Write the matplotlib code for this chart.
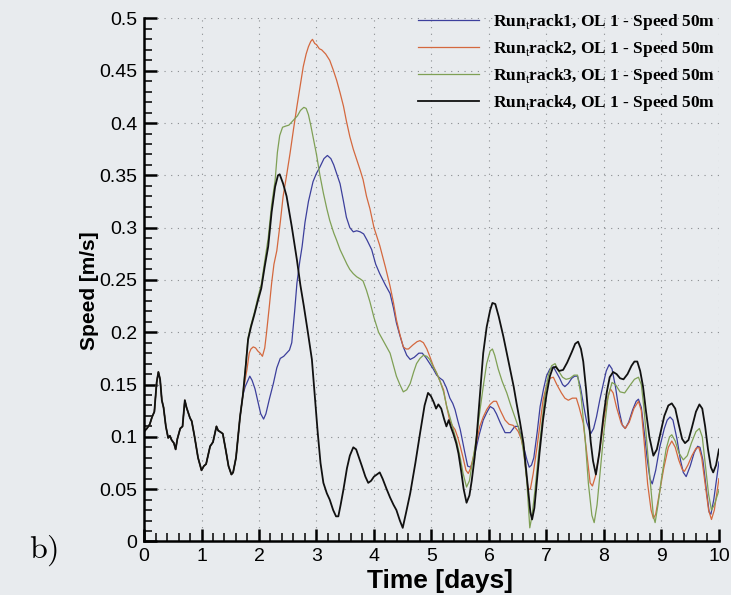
import matplotlib
matplotlib.use("Agg")
import matplotlib.pyplot as plt
from matplotlib.ticker import MultipleLocator
import numpy as np

# Shared part of the record (all four runs coincide until ~1.7 days)
t_common = [0.0, 0.05, 0.1, 0.14, 0.18, 0.22, 0.25, 0.28, 0.31, 0.34, 0.38, 0.42, 0.45, 0.48,
            0.52, 0.55, 0.58, 0.63, 0.67, 0.71, 0.74, 0.77, 0.8, 0.83, 0.88, 0.94, 1.0, 1.04,
            1.08, 1.15, 1.2, 1.26, 1.29, 1.32, 1.37, 1.42, 1.47, 1.52, 1.55, 1.6, 1.67, 1.72]
v_common = [0.105, 0.108, 0.112, 0.119, 0.124, 0.152, 0.162, 0.155, 0.135, 0.128, 0.110, 0.099,
            0.101, 0.097, 0.094, 0.088, 0.098, 0.108, 0.110, 0.135, 0.128, 0.123, 0.118, 0.115,
            0.100, 0.080, 0.068, 0.072, 0.074, 0.091, 0.095, 0.110, 0.106, 0.105, 0.103, 0.088,
            0.072, 0.064, 0.066, 0.080, 0.119, 0.140]

t_run1 = [1.76, 1.8, 1.84, 1.88, 1.93, 1.98, 2.03, 2.08, 2.12, 2.18, 2.25, 2.31, 2.37, 2.43, 2.48,
          2.53, 2.57, 2.62, 2.66, 2.71, 2.75, 2.8, 2.86, 2.94, 3.0, 3.06, 3.13, 3.19, 3.25, 3.3,
          3.36, 3.41, 3.47, 3.52, 3.58, 3.64, 3.7, 3.76, 3.82, 3.88, 3.96, 4.03, 4.1, 4.2, 4.28,
          4.34, 4.39, 4.45, 4.51, 4.57, 4.63, 4.7, 4.78, 4.84, 4.9, 4.97, 5.03, 5.09, 5.15, 5.2,
          5.26, 5.32, 5.37, 5.41, 5.46, 5.5, 5.55, 5.58, 5.63, 5.68, 5.72, 5.76, 5.83, 5.9, 5.96,
          6.02, 6.08, 6.13, 6.2, 6.28, 6.37, 6.45, 6.51, 6.56, 6.6, 6.66, 6.7, 6.74, 6.78, 6.84,
          6.89, 6.95, 7.0, 7.06, 7.12, 7.18, 7.23, 7.28, 7.32, 7.38, 7.44, 7.49, 7.54, 7.59, 7.64,
          7.7, 7.77, 7.82, 7.87, 7.93, 7.99, 8.04, 8.09, 8.14, 8.2, 8.26, 8.32, 8.37, 8.43, 8.5,
          8.56, 8.6, 8.65, 8.7, 8.75, 8.8, 8.84, 8.9, 8.97, 9.05, 9.1, 9.15, 9.2, 9.27, 9.33,
          9.38, 9.43, 9.5, 9.57, 9.63, 9.67, 9.72, 9.78, 9.83, 9.86, 9.91, 9.96, 10.0]
v_run1 = [0.148, 0.153, 0.158, 0.154, 0.146, 0.134, 0.122, 0.117, 0.122, 0.136, 0.151, 0.166,
          0.175, 0.177, 0.180, 0.183, 0.190, 0.220, 0.247, 0.268, 0.282, 0.305, 0.325, 0.344,
          0.352, 0.358, 0.366, 0.369, 0.366, 0.360, 0.350, 0.342, 0.325, 0.310, 0.300, 0.296,
          0.297, 0.296, 0.294, 0.288, 0.279, 0.265, 0.256, 0.245, 0.237, 0.223, 0.209, 0.197,
          0.186, 0.178, 0.174, 0.176, 0.180, 0.180, 0.176, 0.170, 0.165, 0.159, 0.156, 0.154,
          0.147, 0.137, 0.132, 0.126, 0.115, 0.107, 0.093, 0.085, 0.072, 0.071, 0.076, 0.085,
          0.102, 0.116, 0.123, 0.129, 0.127, 0.122, 0.113, 0.104, 0.104, 0.110, 0.110, 0.100,
          0.091, 0.078, 0.071, 0.073, 0.080, 0.105, 0.129, 0.146, 0.158, 0.165, 0.167, 0.161,
          0.156, 0.150, 0.148, 0.151, 0.156, 0.158, 0.158, 0.148, 0.132, 0.114, 0.103, 0.108,
          0.119, 0.136, 0.151, 0.163, 0.169, 0.165, 0.148, 0.126, 0.111, 0.108, 0.114, 0.126,
          0.134, 0.136, 0.128, 0.105, 0.080, 0.060, 0.055, 0.068, 0.090, 0.108, 0.116, 0.119,
          0.116, 0.098, 0.078, 0.066, 0.062, 0.072, 0.085, 0.091, 0.090, 0.078, 0.050, 0.028,
          0.026, 0.040, 0.060, 0.076]

t_run2 = [1.76, 1.79, 1.83, 1.86, 1.9, 1.94, 1.98, 2.02, 2.06, 2.1, 2.13, 2.18, 2.22, 2.26, 2.31,
          2.37, 2.42, 2.48, 2.54, 2.6, 2.66, 2.72, 2.77, 2.82, 2.86, 2.9, 2.93, 2.97, 3.0, 3.05,
          3.09, 3.16, 3.23, 3.29, 3.35, 3.41, 3.47, 3.52, 3.58, 3.64, 3.7, 3.76, 3.81, 3.87,
          3.93, 4.0, 4.1, 4.2, 4.28, 4.34, 4.39, 4.45, 4.51, 4.56, 4.6, 4.68, 4.75, 4.8, 4.86,
          4.92, 4.97, 5.03, 5.09, 5.15, 5.21, 5.26, 5.32, 5.37, 5.41, 5.46, 5.5, 5.55, 5.6,
          5.64, 5.68, 5.73, 5.79, 5.84, 5.9, 5.96, 6.02, 6.08, 6.13, 6.2, 6.28, 6.35, 6.42, 6.47,
          6.51, 6.56, 6.6, 6.64, 6.68, 6.72, 6.77, 6.83, 6.89, 6.94, 7.0, 7.06, 7.12, 7.18, 7.26,
          7.32, 7.38, 7.45, 7.52, 7.57, 7.64, 7.7, 7.76, 7.8, 7.85, 7.93, 8.0, 8.07, 8.11, 8.16,
          8.22, 8.3, 8.37, 8.44, 8.52, 8.6, 8.65, 8.7, 8.76, 8.82, 8.86, 8.9, 8.96, 9.04, 9.12,
          9.18, 9.24, 9.3, 9.36, 9.4, 9.46, 9.53, 9.6, 9.65, 9.7, 9.76, 9.82, 9.87, 9.92, 9.96,
          10.0]
v_run2 = [0.155, 0.164, 0.180, 0.184, 0.186, 0.185, 0.182, 0.180, 0.177, 0.185, 0.199, 0.225,
          0.247, 0.265, 0.278, 0.305, 0.330, 0.350, 0.371, 0.394, 0.416, 0.437, 0.454, 0.466,
          0.473, 0.478, 0.480, 0.476, 0.475, 0.471, 0.470, 0.466, 0.460, 0.451, 0.441, 0.429,
          0.416, 0.402, 0.387, 0.375, 0.365, 0.355, 0.346, 0.330, 0.318, 0.300, 0.283, 0.262,
          0.244, 0.228, 0.212, 0.198, 0.186, 0.184, 0.184, 0.188, 0.191, 0.192, 0.190, 0.184,
          0.177, 0.168, 0.161, 0.153, 0.145, 0.130, 0.115, 0.110, 0.107, 0.099, 0.091, 0.080,
          0.068, 0.065, 0.070, 0.081, 0.097, 0.110, 0.119, 0.126, 0.131, 0.134, 0.134, 0.125,
          0.116, 0.112, 0.111, 0.108, 0.105, 0.098, 0.088, 0.068, 0.050, 0.050, 0.065, 0.088,
          0.113, 0.135, 0.149, 0.156, 0.157, 0.150, 0.142, 0.137, 0.135, 0.137, 0.137, 0.128,
          0.113, 0.085, 0.056, 0.053, 0.062, 0.088, 0.118, 0.138, 0.146, 0.142, 0.128, 0.113,
          0.108, 0.114, 0.127, 0.134, 0.125, 0.095, 0.055, 0.030, 0.022, 0.026, 0.045, 0.070,
          0.090, 0.096, 0.090, 0.078, 0.069, 0.067, 0.073, 0.082, 0.089, 0.090, 0.080, 0.055,
          0.030, 0.021, 0.030, 0.045, 0.060]

t_run3 = [1.77, 1.81, 1.86, 1.92, 1.98, 2.04, 2.1, 2.16, 2.22, 2.28, 2.32, 2.36, 2.41, 2.46, 2.52,
          2.57, 2.62, 2.67, 2.72, 2.78, 2.82, 2.86, 2.9, 2.94, 3.0, 3.06, 3.12, 3.18, 3.23, 3.3,
          3.35, 3.41, 3.47, 3.53, 3.58, 3.64, 3.7, 3.76, 3.81, 3.87, 3.93, 4.0, 4.08, 4.18, 4.28,
          4.33, 4.39, 4.45, 4.51, 4.57, 4.63, 4.69, 4.74, 4.8, 4.86, 4.92, 4.97, 5.03, 5.09,
          5.15, 5.21, 5.27, 5.32, 5.38, 5.44, 5.5, 5.55, 5.61, 5.66, 5.7, 5.75, 5.79, 5.85, 5.9,
          5.96, 6.02, 6.06, 6.1, 6.16, 6.23, 6.31, 6.38, 6.45, 6.52, 6.57, 6.62, 6.66, 6.69, 6.71,
          6.75, 6.8, 6.86, 6.92, 6.97, 7.03, 7.09, 7.15, 7.21, 7.28, 7.34, 7.41, 7.48, 7.54, 7.6,
          7.67, 7.73, 7.79, 7.83, 7.88, 7.94, 8.0, 8.07, 8.14, 8.2, 8.28, 8.36, 8.45, 8.53, 8.6,
          8.65, 8.7, 8.76, 8.82, 8.86, 8.89, 8.94, 9.0, 9.08, 9.14, 9.18, 9.24, 9.3, 9.38, 9.45,
          9.52, 9.6, 9.66, 9.71, 9.76, 9.82, 9.87, 9.92, 9.96, 10.0]
v_run3 = [0.170, 0.195, 0.207, 0.219, 0.233, 0.246, 0.268, 0.290, 0.322, 0.345, 0.372, 0.388,
          0.396, 0.397, 0.398, 0.401, 0.404, 0.407, 0.412, 0.415, 0.414, 0.408, 0.398, 0.387,
          0.370, 0.350, 0.333, 0.318, 0.307, 0.295, 0.288, 0.279, 0.272, 0.265, 0.260, 0.256,
          0.253, 0.251, 0.249, 0.240, 0.229, 0.214, 0.200, 0.190, 0.180, 0.170, 0.158, 0.150,
          0.143, 0.145, 0.151, 0.162, 0.170, 0.175, 0.178, 0.177, 0.174, 0.167, 0.161, 0.153,
          0.143, 0.128, 0.119, 0.107, 0.095, 0.080, 0.065, 0.052, 0.058, 0.072, 0.088, 0.103,
          0.128, 0.148, 0.170, 0.182, 0.184, 0.178, 0.165, 0.153, 0.142, 0.130, 0.119, 0.108,
          0.097, 0.078, 0.056, 0.030, 0.013, 0.025, 0.049, 0.082, 0.113, 0.138, 0.158, 0.168,
          0.170, 0.163, 0.157, 0.155, 0.156, 0.159, 0.159, 0.140, 0.100, 0.055, 0.025, 0.018,
          0.035, 0.070, 0.105, 0.138, 0.152, 0.150, 0.143, 0.142, 0.149, 0.155, 0.157, 0.150,
          0.125, 0.085, 0.048, 0.024, 0.018, 0.035, 0.060, 0.088, 0.100, 0.102, 0.096, 0.085,
          0.078, 0.082, 0.094, 0.105, 0.108, 0.100, 0.075, 0.045, 0.030, 0.035, 0.042, 0.049]

t_run4 = [1.77, 1.81, 1.86, 1.92, 1.98, 2.04, 2.1, 2.16, 2.22, 2.28, 2.33, 2.36, 2.42, 2.48, 2.57,
          2.66, 2.72, 2.78, 2.85, 2.92, 2.97, 3.02, 3.07, 3.12, 3.18, 3.23, 3.29, 3.34, 3.38,
          3.42, 3.47, 3.53, 3.58, 3.64, 3.69, 3.74, 3.79, 3.85, 3.9, 3.95, 4.0, 4.05, 4.1, 4.15,
          4.22, 4.28, 4.34, 4.39, 4.45, 4.5, 4.56, 4.63, 4.72, 4.8, 4.88, 4.94, 4.99, 5.04, 5.08,
          5.12, 5.17, 5.22, 5.26, 5.3, 5.34, 5.38, 5.43, 5.47, 5.52, 5.56, 5.61, 5.66, 5.7, 5.75,
          5.79, 5.85, 5.9, 5.96, 6.02, 6.06, 6.11, 6.17, 6.25, 6.31, 6.37, 6.43, 6.48, 6.54, 6.6,
          6.64, 6.68, 6.72, 6.75, 6.79, 6.83, 6.88, 6.94, 7.0, 7.06, 7.11, 7.16, 7.22, 7.29, 7.36,
          7.44, 7.5, 7.55, 7.6, 7.64, 7.69, 7.73, 7.77, 7.81, 7.86, 7.92, 7.99, 8.05, 8.1, 8.16,
          8.22, 8.28, 8.34, 8.41, 8.48, 8.53, 8.58, 8.63, 8.68, 8.73, 8.79, 8.86, 8.92, 8.98,
          9.05, 9.12, 9.18, 9.24, 9.3, 9.36, 9.41, 9.47, 9.53, 9.6, 9.66, 9.71, 9.76, 9.81, 9.86,
          9.9, 9.95, 10.0]
v_run4 = [0.168, 0.193, 0.205, 0.217, 0.230, 0.242, 0.263, 0.282, 0.315, 0.339, 0.350, 0.351,
          0.342, 0.330, 0.301, 0.269, 0.245, 0.225, 0.200, 0.174, 0.140, 0.105, 0.075, 0.056,
          0.046, 0.040, 0.030, 0.024, 0.024, 0.035, 0.050, 0.070, 0.082, 0.090, 0.088, 0.080,
          0.072, 0.062, 0.056, 0.058, 0.062, 0.064, 0.066, 0.060, 0.050, 0.042, 0.035, 0.030,
          0.020, 0.013, 0.028, 0.046, 0.075, 0.103, 0.130, 0.142, 0.139, 0.133, 0.127, 0.131,
          0.127, 0.117, 0.110, 0.116, 0.109, 0.103, 0.094, 0.084, 0.066, 0.050, 0.037, 0.044,
          0.058, 0.080, 0.103, 0.145, 0.180, 0.205, 0.221, 0.228, 0.227, 0.215, 0.196, 0.180,
          0.164, 0.148, 0.132, 0.114, 0.094, 0.072, 0.050, 0.028, 0.021, 0.032, 0.056, 0.085,
          0.116, 0.140, 0.158, 0.166, 0.167, 0.163, 0.164, 0.171, 0.181, 0.189, 0.191, 0.184,
          0.172, 0.145, 0.119, 0.095, 0.077, 0.064, 0.085, 0.119, 0.143, 0.157, 0.162, 0.160,
          0.156, 0.155, 0.160, 0.168, 0.172, 0.172, 0.163, 0.148, 0.125, 0.100, 0.082, 0.088,
          0.103, 0.120, 0.130, 0.132, 0.127, 0.112, 0.098, 0.094, 0.097, 0.109, 0.124, 0.131,
          0.127, 0.110, 0.088, 0.071, 0.066, 0.073, 0.088]

labels = [r"Run$_\mathrm{t}$rack%d, OL 1 - Speed 50m" % i for i in range(1, 5)]
colors = ["#3c3f9c", "#d4683e", "#7fa055", "#111111"]
widths = [0.9, 0.9, 0.9, 1.3]

plt.rcParams["mathtext.fontset"] = "custom"
plt.rcParams["mathtext.bf"] = "Liberation Serif:bold"
plt.rcParams["mathtext.rm"] = "Liberation Serif"

bg = "#e8ebee"
fig = plt.figure(figsize=(7.31, 5.95), dpi=100, facecolor=bg)
ax = fig.add_axes([0.197, 0.09, 0.7865, 0.879], facecolor=bg)

runs = [(t_run1, v_run1), (t_run2, v_run2), (t_run3, v_run3), (t_run4, v_run4)]
for (tt, vv), lab, c, lw in zip(runs, labels, colors, widths):
    ax.plot(t_common + tt, v_common + vv, color=c, lw=lw, label=lab)

ax.set_xlim(0, 10)
ax.set_ylim(0, 0.5)
ax.xaxis.set_major_locator(MultipleLocator(1))
ax.xaxis.set_minor_locator(MultipleLocator(0.2))
ax.yaxis.set_major_locator(MultipleLocator(0.05))
ax.yaxis.set_minor_locator(MultipleLocator(0.01))
ax.set_yticks(np.arange(0, 0.501, 0.05))
ax.set_yticklabels(["0", "0.05", "0.1", "0.15", "0.2", "0.25", "0.3", "0.35", "0.4", "0.45", "0.5"])

for side in ["top", "right"]:
    ax.spines[side].set_visible(False)
for side in ["left", "bottom"]:
    ax.spines[side].set_linewidth(1.8)

ax.tick_params(which="major", direction="in", length=9, width=1.8, labelsize=14, pad=5)
ax.tick_params(which="minor", direction="in", length=5.5, width=1.1)
for lbl in ax.get_xticklabels() + ax.get_yticklabels():
    lbl.set_family("Liberation Sans")

ax.grid(True, which="major", color="#8a8d90", linestyle=(0, (1, 5)), linewidth=0.8)

ax.set_xlabel("Time [days]", fontsize=19, fontweight="bold", family="Liberation Sans")
ax.xaxis.set_label_coords(0.515, -0.052)
ax.set_ylabel("Speed [m/s]", fontsize=15, fontweight="bold", family="Liberation Sans")
ax.yaxis.set_label_coords(-0.078, 0.48)

leg = ax.legend(loc="upper right", frameon=False, handlelength=3.5, labelspacing=0.4,
                prop={"family": "Liberation Serif", "weight": "bold", "size": 12.5},
                bbox_to_anchor=(1.005, 1.026), borderaxespad=0.0)

fig.text(0.04, 0.063, r"$\mathrm{b)}$", fontsize=23, math_fontfamily="cm")

plt.savefig("out.png", dpi=100, facecolor=bg)
